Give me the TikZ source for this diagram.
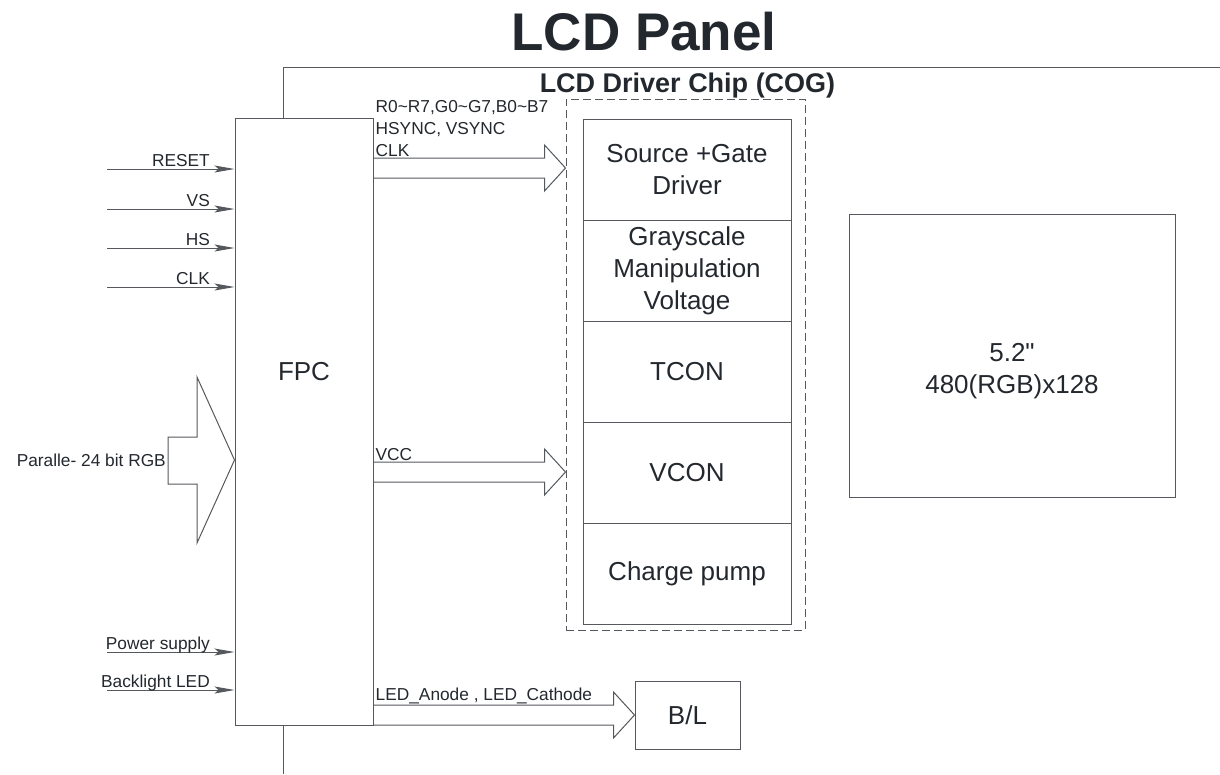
\documentclass[tikz,border=0pt]{standalone}
\usepackage{fontspec}
\setmainfont{Liberation Sans}[Ligatures=TeXOff]
\usetikzlibrary{arrows.meta,calc}
\definecolor{inkdark}{RGB}{35,40,46}
\definecolor{wiregray}{RGB}{85,88,92}
\tikzset{every node/.style={text=inkdark},line cap=butt,line join=miter,
  wire/.style={draw=wiregray,line width=1pt},
  blockbox/.style={wire,minimum width=208pt,minimum height=101pt,anchor=north,align=center,font=\fontsize{26}{32}\selectfont},
  siglabel/.style={font=\fontsize{17.3}{22}\selectfont,inner sep=1pt},
  sigin/.style={wire,-{Stealth[length=20pt,width=7pt,inset=4pt]}}}
% hollow bus arrow from #1 (left end) to #2 (tip)
\newcommand{\busarrow}[2]{%
  \draw[wire] ($(#1)+(0,-10)$) -- ($(#2)+(-21,-10)$) -- ($(#2)+(-21,-23)$) -- (#2)
    -- ($(#2)+(-21,23)$) -- ($(#2)+(-21,10)$) -- ($(#1)+(0,10)$);}

\begin{document}
\begin{tikzpicture}[x=1pt,y=-1pt]
  \path[use as bounding box] (0,0) rectangle (1220,774);
  \node[font=\bfseries\fontsize{53}{60}\selectfont,anchor=base] (title) at (644,50) {LCD Panel};

  % FPC
  \node[wire,minimum width=138pt,minimum height=607pt,inner sep=0pt] (fpc) at (304,421.5) {};
  \node[font=\fontsize{26}{32}\selectfont] (fpctext) at (304,372) {FPC};

  % panel outline
  \draw[wire] (fpc.north west -| 283,0) -- (283,67) -- (1220,67);
  \draw[wire] (fpc.south west -| 283,0) -- (283,774);

  % input signals
  \foreach \nm/\y/\txt in {rst/169/RESET, vs/209/VS, hs/248/HS, clk/287/CLK, pwr/652/Power supply, led/690/Backlight LED} {
    \coordinate (\nm-in) at (107,\y);
    \draw[sigin] (\nm-in) -- (fpc.west |- \nm-in);
    \node[siglabel,anchor=base east] (\nm-lbl) at (211,\y-3) {\txt};
  }

  % parallel RGB input
  \draw[wire] (168,437) -- (197,437) -- (197,377) -- (fpc.west |- 0,460) -- (197,543) -- (197,484) -- (168,484) -- cycle;
  \node[siglabel,anchor=east] (rgb-lbl) at (167,460) {Paralle- 24 bit RGB};

  % driver chip
  \node[wire,dash pattern=on 8pt off 4pt,minimum width=239pt,minimum height=531pt,inner sep=0pt] (chip) at (685.5,364.5) {};
  \node[font=\bfseries\fontsize{27}{30}\selectfont,anchor=base] (chip-lbl) at (687.5,92) {LCD Driver Chip (COG)};
  \foreach \nm/\top/\txt in {src/119/{Source +Gate\\Driver}, gsv/220/{Grayscale\\Manipulation\\Voltage}, tcon/321/TCON, vcon/422/VCON, pump/523/Charge pump}
    \node[blockbox] (\nm) at (687,\top) {\txt};

  % display
  \node[wire,minimum width=326pt,minimum height=283pt] (lcd) at (1012,355.5) {};
  \node[align=center,font=\fontsize{26}{32}\selectfont] (lcd-txt) at (1012,371) {5.2"\\480(RGB)x128};

  % backlight
  \node[wire,minimum width=105pt,minimum height=68pt,font=\fontsize{26}{32}\selectfont] (bkl) at (687.5,715) {B/L};

  % bus arrows
  \coordinate (bus-in) at (fpc.east |- 0,168);
  \coordinate (bus-out) at (chip.west |- 0,168);
  \busarrow{bus-in}{bus-out}
  \node[siglabel,anchor=south west,align=left] (bus-lbl) at ($(bus-in)+(1,-10)$) {R0\textasciitilde R7,G0\textasciitilde G7,B0\textasciitilde B7\\HSYNC, VSYNC\\CLK};

  \coordinate (vcc-in) at (fpc.east |- 0,472);
  \coordinate (vcc-out) at (chip.west |- 0,472);
  \busarrow{vcc-in}{vcc-out}
  \node[siglabel,anchor=south west] (vcc-lbl) at ($(vcc-in)+(1,-10)$) {VCC};

  \coordinate (bl-in) at (fpc.east |- 0,715);
  \busarrow{bl-in}{bkl.west}
  \node[siglabel,anchor=south west] (bl-lbl) at ($(bl-in)+(1,-10)$) {LED\_Anode , LED\_Cathode};
\end{tikzpicture}
\end{document}
